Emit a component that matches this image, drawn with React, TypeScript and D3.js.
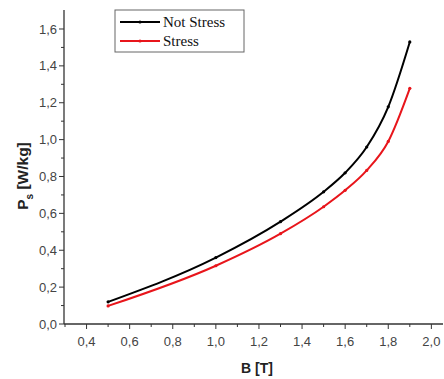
import React, { useRef, useEffect } from "react"
import * as d3 from "d3"

const bValues = [0.5, 1.0, 1.3, 1.5, 1.6, 1.7, 1.8, 1.9]
const notStress = [0.12, 0.36, 0.555, 0.717, 0.82, 0.96, 1.178, 1.53]
const stress = [0.098, 0.316, 0.49, 0.636, 0.725, 0.833, 0.99, 1.278]
const xTicks = [0.4, 0.6, 0.8, 1.0, 1.2, 1.4, 1.6, 1.8, 2.0]
const yTicks = [0.0, 0.2, 0.4, 0.6, 0.8, 1.0, 1.2, 1.4, 1.6]
const seriesNames = ["Not Stress", "Stress"]
const seriesColors = ["#000000", "#e8151b"]

export default function App() {
    const svgRef = useRef<SVGSVGElement>(null)

    useEffect(() => {
        if (!svgRef.current) return
        const svg = d3.select(svgRef.current)
        svg.selectAll("*").remove()

        const width = 444
        const height = 379
        const x = d3.scaleLinear().domain([0.3, 2.054]).range([65, 443])
        const y = d3.scaleLinear().domain([0, 1.703]).range([324, 10])

        svg.append("rect").attr("width", width).attr("height", height).attr("fill", "#fff")

        const fmt = (v: number) => v.toFixed(1).replace(".", ",")
        const axisColor = "#333"
        const sans = "Liberation Sans, Arial, sans-serif"

        // X axis
        const gx = svg.append("g").attr("transform", `translate(0,${y(0)})`)
        gx.append("line").attr("x1", x.range()[0] - 1).attr("x2", x.range()[1]).attr("stroke", axisColor).attr("stroke-width", 1.3)
        d3.range(0.3, 2.06, 0.1).forEach((v) => {
            const major = xTicks.some((t) => Math.abs(t - v) < 1e-6)
            gx.append("line").attr("x1", x(v)).attr("x2", x(v)).attr("y1", 0).attr("y2", major ? 5 : 3)
                .attr("stroke", axisColor).attr("stroke-width", 1)
        })
        xTicks.forEach((t) => {
            gx.append("text").attr("x", x(t)).attr("y", 22).attr("text-anchor", "middle")
                .attr("font-family", sans).attr("font-size", 13).attr("fill", "#444")
                .text(fmt(t))
        })

        // Y axis
        const gy = svg.append("g").attr("transform", `translate(${x.range()[0] - 1},0)`)
        gy.append("line").attr("y1", y(0)).attr("y2", y.range()[1]).attr("stroke", axisColor).attr("stroke-width", 1.3)
        d3.range(0, 1.65, 0.1).forEach((v) => {
            const major = yTicks.some((t) => Math.abs(t - v) < 1e-6)
            gy.append("line").attr("y1", y(v)).attr("y2", y(v)).attr("x1", 0).attr("x2", major ? -5 : -3)
                .attr("stroke", axisColor).attr("stroke-width", 1)
        })
        yTicks.forEach((t) => {
            gy.append("text").attr("x", -7).attr("y", y(t)).attr("dy", "0.35em").attr("text-anchor", "end")
                .attr("font-family", sans).attr("font-size", 13).attr("fill", "#444")
                .text(fmt(t))
        })

        // Axis titles
        svg.append("text").attr("x", 257).attr("y", 373).attr("text-anchor", "middle")
            .attr("font-family", sans).attr("font-size", 14).attr("font-weight", "bold")
            .attr("fill", "#222").text("B [T]")
        const yt = svg.append("text").attr("transform", `translate(28,176) rotate(-90)`).attr("text-anchor", "middle")
            .attr("font-family", sans).attr("font-size", 15.5).attr("font-weight", "bold")
            .attr("fill", "#222")
        yt.append("tspan").text("P")
        yt.append("tspan").attr("font-size", 10).attr("dy", 5).text("s")
        yt.append("tspan").attr("dy", -5).text(" [W/kg]")

        // Lines
        const line = d3.line<number>()
            .x((_, i) => x(bValues[i]))
            .y((d) => y(d))
            .curve(d3.curveMonotoneX)

        ;[notStress, stress].forEach((vals, si) => {
            svg.append("path").datum(vals).attr("fill", "none").attr("stroke", seriesColors[si])
                .attr("stroke-width", 2).attr("d", line)
            svg.selectAll(null).data(vals).enter().append("circle")
                .attr("cx", (_, i) => x(bValues[i])).attr("cy", (d) => y(d)).attr("r", 1.6)
                .attr("fill", seriesColors[si])
        })

        // Legend
        const lg = svg.append("g")
        lg.append("rect").attr("x", 115).attr("y", 10).attr("width", 129).attr("height", 42)
            .attr("fill", "#fff").attr("stroke", "#666").attr("stroke-width", 1)
        seriesNames.forEach((name, i) => {
            const ly = 22 + i * 19
            lg.append("line").attr("x1", 120).attr("x2", 160).attr("y1", ly).attr("y2", ly)
                .attr("stroke", seriesColors[i]).attr("stroke-width", 2)
            lg.append("circle").attr("cx", 140).attr("cy", ly).attr("r", 1.6).attr("fill", seriesColors[i])
            lg.append("text").attr("x", 163).attr("y", ly).attr("dy", "0.35em")
                .attr("font-family", "Liberation Serif, Times New Roman, serif").attr("font-size", 15)
                .attr("fill", "#111").text(name)
        })
    }, [])

    return (
        <div style={{ position: "absolute", left: 0, top: 0, width: 444, height: 379 }}>
            <svg ref={svgRef} width={444} height={379} style={{ display: "block" }} />
        </div>
    )
}
